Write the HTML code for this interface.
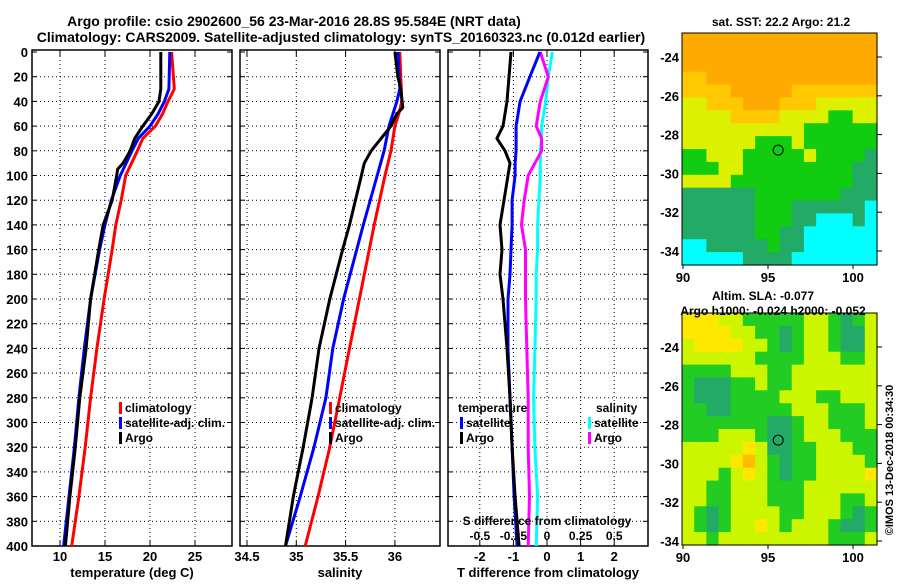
<!DOCTYPE html>
<html><head><meta charset="utf-8"><style>
body{margin:0;background:#fff;}
svg text{font-family:"Liberation Sans",sans-serif;font-weight:bold;fill:#000;}
</style></head><body>
<svg id="c" width="900" height="580" xmlns="http://www.w3.org/2000/svg"></svg>
<script>
// ---- data ----
const depthT = [0,30,40,50,60,70,80,100,120,140,160,200,240,280,320,360,400];
const tempClim = [22.4,22.7,22.0,21.4,20.6,19.2,18.6,17.3,16.8,16.2,15.8,14.9,14.1,13.4,12.8,12.1,11.3];
const tempSat  = [22.2,22.1,21.6,20.9,20.0,18.7,18.0,16.7,15.7,15.0,14.4,13.4,12.7,12.1,11.6,11.0,10.4];
const depthArgoT = [0,30,40,50,60,70,80,90,95,100,120,140,160,200,240,280,320,360,400];
const tempArgo = [21.2,21.2,21.0,20.2,19.2,18.3,17.8,17.0,16.4,16.3,15.8,14.8,14.3,13.4,12.9,12.2,11.7,11.1,10.6];
const depthS = [0,40,50,60,80,100,140,200,240,280,320,360,400];
const salClim = [36.05,36.07,36.04,36.00,35.96,35.90,35.79,35.64,35.54,35.44,35.34,35.22,35.09];
const depthSatS = [0,30,40,60,80,100,140,200,240,280,320,360,400];
const salSat = [36.03,36.05,36.02,35.94,35.89,35.82,35.68,35.48,35.37,35.30,35.18,35.04,34.89];
const depthArgoS = [0,20,30,45,50,60,70,80,90,100,140,160,200,240,280,320,360,400];
const salArgo = [36.00,36.03,36.06,36.08,36.02,35.96,35.86,35.76,35.69,35.66,35.54,35.47,35.34,35.23,35.16,35.07,34.97,34.89];
const depthD = [0,20,40,60,70,80,90,100,120,140,160,180,200,240,280,320,360,400];
const tdiffArgo = [-1.07,-1.13,-1.19,-1.31,-1.49,-1.25,-1.10,-1.16,-1.28,-1.40,-1.34,-1.40,-1.31,-1.19,-1.10,-1.04,-0.95,-0.83];
const tdiffSat  = [-0.21,-0.51,-0.80,-0.92,-0.92,-0.92,-0.95,-0.95,-1.04,-1.04,-1.07,-1.10,-1.16,-1.16,-1.10,-1.04,-0.98,-0.89];
const sdiffSat  = [0.04,0.01,-0.01,-0.04,-0.04,-0.05,-0.05,-0.05,-0.06,-0.07,-0.07,-0.08,-0.08,-0.09,-0.10,-0.09,-0.07,-0.08];
const sdiffArgo = [-0.05,0.01,-0.05,-0.08,-0.04,-0.04,-0.09,-0.14,-0.17,-0.19,-0.16,-0.16,-0.16,-0.15,-0.14,-0.14,-0.13,-0.14];
const depthTicks = [0,20,40,60,80,100,120,140,160,180,200,220,240,260,280,300,320,340,360,380,400];
const tempTicks = [10,15,20,25];
const salTicks = [34.5,35,35.5,36];
const tdTicks = [-2,-1,0,1,2];
const sdTicks = [-0.5,-0.25,0,0.25,0.5];
const sdTickLabels = ["-0.5","-0.25","0","0.25","0.5"];
const latTicks = [-24,-26,-28,-30,-32,-34];
const lonTicks = [90,95,100];
const sstRows = ["OOOOOOOOOOOOOOOO","OOOOOOOOOOOOOOOO","OOOOOOOOOOOOOOOO","LLOOOOOOOOOOOOOO","LLLLOOOOOLLLLLLL","YYLLLOOOLLLYYYYY","YYYYLLLLYYYYGGYY","YYYYYYYYYYGGGGGG","YYYYYYGGGYGGGGGG","GGYYYGGGGGYGGGGT","GGGYYGGGGGGGGGTT","YYYYGGGGGGGGGGTT","TTTTTTGGGGGGGTTT","TTTTTTGGGTTTTTTC","TTTTTTGGGTTCCCTC","TTTTTTGGTTCCCCCC","CCTTTTTGTTCCCCCC","CCCCCTTTTCCCCCCC"];
const slaRows = ["YYYLLGGGGGLLGDGL","YYYYLLGGDGLLGDDL","LYYYYLLGDGLLGDDL","LLLLLLGGGGLLLGGL","GGGGLLLGGLLLLLLL","GDDDGGLGGLLLLLLL","GDDDGGGGLLLGGLLL","GGDDGGGGGLLLGGGL","GGGGGGGDDGLLGGGL","GGGLLLGDDGLLLGGG","LLLLLYLDDGGLLLGG","LLLLYOLGDGGLLLLG","LLLGLYLGDGGLLLLY","LLGGLLLGGGLLLLLL","LLGGLLLGGGLLLGGL","LGDGLLLLGGLLLGDG","LGDGLLYLGLLLGDDG","LLGLLLLLLLLLGGGL"];
const argoLon = 95.6, argoLat = -28.8;

// ---- helpers ----
const NS="http://www.w3.org/2000/svg", svg=document.getElementById('c');
function mk(tag,attrs,parent,txt){const e=document.createElementNS(NS,tag);for(const k in attrs)e.setAttribute(k,attrs[k]);if(txt!==undefined)e.textContent=txt;(parent||svg).appendChild(e);return e;}
const Y0=52, Y1=546, yD=d=>Y0+d*(Y1-Y0)/400;
function txt(x,y,s,size,anchor,name,parent){const t=mk('text',{x:x,y:y,'font-size':size,'text-anchor':anchor||'middle'},parent,s);return t;}

function panel(name,x0,x1,xf,xt,xlabels,title,showY){
  const g=mk('g',{});
  
  
  depthTicks.forEach(d=>{
    if(d>0&&d<400) mk('line',{x1:x0,x2:x1,y1:yD(d),y2:yD(d),stroke:'#000','stroke-dasharray':'1,3','stroke-width':1},g);
    mk('line',{x1:x0,x2:x0+5,y1:yD(d),y2:yD(d),stroke:'#000'},g);
    mk('line',{x1:x1-5,x2:x1,y1:yD(d),y2:yD(d),stroke:'#000'},g);
    if(showY) txt(x0-4,yD(d)+5,String(d),13,'end','depth-tick-label',g);
  });
  xt.forEach((v,i)=>{
    const x=xf(v);
    mk('line',{x1:x,x2:x,y1:Y0,y2:Y1,stroke:'#000','stroke-dasharray':'1,3'},g);
    mk('line',{x1:x,x2:x,y1:Y1-5,y2:Y1,stroke:'#000'},g);
    mk('line',{x1:x,x2:x,y1:Y0-2,y2:Y0+4,stroke:'#000'},g);
    txt(x,561,xlabels[i],13,'middle','x-tick-label',g);
  });
  mk('rect',{x:x0,y:Y0-2,width:x1-x0,height:Y1-Y0+2,fill:'none',stroke:'#000','stroke-width':1.5},g);
  txt((x0+x1)/2,577,title,13,'middle','x-axis-title',g);
  return g;
}
function line(g,name,depths,vals,xf,color){
  const pts=depths.map((d,i)=>xf(vals[i]).toFixed(1)+','+yD(d).toFixed(1)).join(' ');
  const p=mk('polyline',{points:pts,fill:'none',stroke:color,'stroke-width':3,'stroke-linejoin':'round'},g);
  
  
}
function legend(g,x,y,color,label,name){
  mk('rect',{x:x,y:y-10,width:3,height:12,fill:color},g);
  txt(x+6,y,label,12,'start',name,g);
}

// titles
txt(294,26,"Argo profile: csio 2902600_56 23-Mar-2016 28.8S 95.584E (NRT data)",14,'middle','chart-title');
txt(341,42,"Climatology: CARS2009. Satellite-adjusted climatology: synTS_20160323.nc (0.012d earlier)",14,'middle','chart-subtitle');

// panel 1 temperature
const xT=v=>60+(v-10)*9;
const g1=panel('temperature-panel',32,232,xT,tempTicks,tempTicks.map(String),'temperature (deg C)',true);
line(g1,'temp-climatology-line',depthT,tempClim,xT,'#ff0000');
line(g1,'temp-satellite-line',depthT,tempSat,xT,'#0000ff');
line(g1,'temp-argo-line',depthArgoT,tempArgo,xT,'#000000');
legend(g1,119,412,'#ff0000','climatology','legend-climatology');
legend(g1,119,427,'#0000ff','satellite-adj. clim.','legend-satellite');
legend(g1,119,442,'#000000','Argo','legend-argo');

// panel 2 salinity
const xS=v=>247+(v-34.5)*98.6;
const g2=panel('salinity-panel',240,440,xS,salTicks,salTicks.map(String),'salinity',false);
line(g2,'sal-climatology-line',depthS,salClim,xS,'#ff0000');
line(g2,'sal-satellite-line',depthSatS,salSat,xS,'#0000ff');
line(g2,'sal-argo-line',depthArgoS,salArgo,xS,'#000000');
legend(g2,329,412,'#ff0000','climatology','legend-climatology');
legend(g2,329,427,'#0000ff','satellite-adj. clim.','legend-satellite');
legend(g2,329,442,'#000000','Argo','legend-argo');

// panel 3 differences
const xTD=v=>547+v*33.6, xSD=v=>547+v*134.4;
const g3=panel('difference-panel',448,648,xTD,tdTicks,tdTicks.map(String),'T difference from climatology',false);
line(g3,'sdiff-satellite-line',depthD,sdiffSat,xSD,'#00ffff');
line(g3,'sdiff-argo-line',depthD,sdiffArgo,xSD,'#ff00ff');
line(g3,'tdiff-satellite-line',depthD,tdiffSat,xTD,'#0000ff');
line(g3,'tdiff-argo-line',depthD,tdiffArgo,xTD,'#000000');
txt(458,412,'temperature',12,'start','legend-temperature-heading',g3);
legend(g3,460,427,'#0000ff','satellite','legend-t-satellite');
legend(g3,460,442,'#000000','Argo','legend-t-argo');
txt(596,412,'salinity',12,'start','legend-salinity-heading',g3);
legend(g3,588,427,'#00ffff','satellite','legend-s-satellite');
legend(g3,588,442,'#ff00ff','Argo','legend-s-argo');
txt(547,525,'S difference from climatology',12,'middle','s-axis-title',g3);
sdTicks.forEach((v,i)=>txt(xSD(v),540,sdTickLabels[i],12,'middle','s-tick-label',g3));

// maps
const MX0=682,MX1=877, lonX=v=>683+(v-90)*17;
const sstCol={O:'#ffaa00',L:'#ffc800',Y:'#ddf000',G:'#11cc11',T:'#22aa66',C:'#00ffff'};
const slaCol={Y:'#ffe800',L:'#ccf500',G:'#22cc22',D:'#22aa66',O:'#ffbb00'};
function map(name,top,bot,rows,cols,latY){
  const g=mk('g',{});
  
  
  const nr=rows.length,nc=rows[0].length,cw=(MX1-MX0)/nc,ch=(bot-top)/nr;
  rows.forEach((r,i)=>{for(let j=0;j<nc;j++){
    mk('rect',{x:(MX0+j*cw).toFixed(1),y:(top+i*ch).toFixed(1),width:(cw+0.6).toFixed(1),height:(ch+0.6).toFixed(1),fill:cols[r[j]]},g);
  }});
  mk('rect',{x:MX0,y:top,width:MX1-MX0,height:bot-top,fill:'none',stroke:'#000'},g);
  latTicks.forEach(v=>{const y=latY(v);mk('line',{x1:MX1,x2:MX1+5,y1:y,y2:y,stroke:'#000'},g);txt(MX0-3,y+5,String(v),13,'end','lat-tick-label',g);});
  lonTicks.forEach(v=>{const x=lonX(v);mk('line',{x1:x,x2:x,y1:bot,y2:bot+4,stroke:'#000'},g);txt(x,bot+17,String(v),13,'middle','lon-tick-label',g);});
  const c=mk('circle',{cx:lonX(argoLon),cy:latY(argoLat),r:5,fill:'none',stroke:'#000','stroke-width':1},g);
  
  
  return g;
}
map('sst-map',33,265,sstRows,sstCol,v=>57+(-24-v)*19.4);
map('sla-map',313,545,slaRows,slaCol,v=>347+(-24-v)*19.4);
txt(781,26,'sat. SST: 22.2 Argo: 21.2',12,'middle','sst-map-title');
txt(763,300,'Altim. SLA: -0.077',12,'middle','sla-map-title');
txt(773,315,'Argo h1000: -0.024 h2000: -0.052',12,'middle','sla-map-subtitle');
const cr=txt(0,0,'©IMOS 13-Dec-2018 00:34:30',11,'middle','copyright-stamp');
cr.setAttribute('transform','translate(893,460) rotate(-90)');
</script>
</body></html>
